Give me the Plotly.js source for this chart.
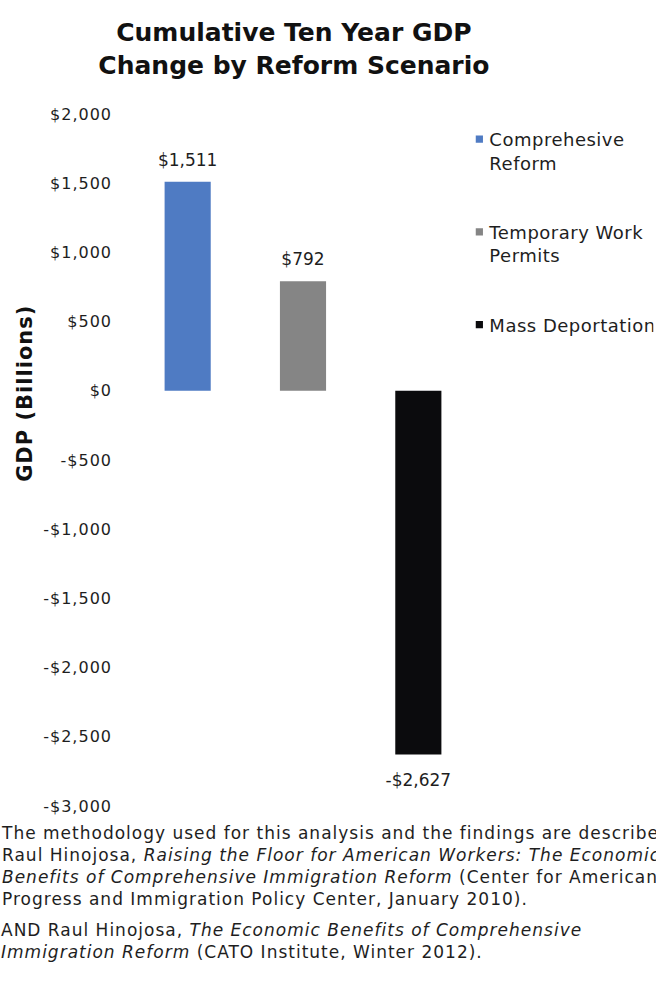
<!DOCTYPE html>
<html>
<head>
<meta charset="utf-8">
<script src="https://cdn.plot.ly/plotly-3.0.1.min.js"></script>
<style>
html, body { margin: 0; padding: 0; background: #ffffff; }
#chart { width: 656px; height: 988px; }
#chart .annotation-text { letter-spacing: 1px; }
#chart .ytick text { letter-spacing: 1px; }
#chart .legendtext { letter-spacing: 0.5px; }
#chart .legendpoints path { transform: translate(30px, 0px) scale(0.6); }
</style>
</head>
<body>
<div id="chart"></div>
<script>
// ---- data ----
const categories = ['Comprehensive Reform', 'Temporary Work Permits', 'Mass Deportation'];
const legendNames = ['Comprehesive<br>Reform', 'Temporary Work<br>Permits', 'Mass Deportation'];
const gdpChange = [1511, 792, -2627];
const barColors = ['#4F7BC3', '#858585', '#0B0B0D'];
const tickValues = [2000, 1500, 1000, 500, 0, -500, -1000, -1500, -2000, -2500, -3000];
const chartTitle = 'Cumulative Ten Year GDP<br>Change by Reform Scenario';
const yAxisTitle = 'GDP (Billions)';
const sourceNote1 = 'The methodology used for this analysis and the findings are described<br>' +
  'Raul Hinojosa, <i>Raising the Floor for American Workers: The Economic</i><br>' +
  '<i>Benefits of Comprehensive Immigration Reform</i> (Center for American<br>' +
  'Progress and Immigration Policy Center, January 2010).';
const sourceNote2 = 'AND Raul Hinojosa, <i>The Economic Benefits of Comprehensive</i><br>' +
  '<i>Immigration Reform</i> (CATO Institute, Winter 2012).';

function money(v) {
  const s = '$' + Math.abs(v).toLocaleString('en-US');
  return v < 0 ? '-' + s : s;
}

const FONT = 'DejaVu Sans, Arial, sans-serif';
const TEXTC = '#1e1e1e';

const traces = categories.map((c, i) => ({
  type: 'bar',
  x: [c],
  y: [gdpChange[i]],
  name: legendNames[i],
  width: 0.4,
  marker: { color: barColors[i] },
  legendgroup: 'g' + i,
  hoverinfo: 'skip'
}));

traces.push({
  type: 'scatter',
  x: categories,
  y: gdpChange,
  mode: 'markers+text',
  text: gdpChange.map(money),
  textposition: gdpChange.map(v => v >= 0 ? 'top center' : 'bottom center'),
  marker: { size: gdpChange.map(v => v >= 0 ? 17 : 29), opacity: 0 },
  textfont: { family: FONT, size: 17, color: TEXTC },
  showlegend: false,
  cliponaxis: false,
  hoverinfo: 'skip'
});

const layout = {
  width: 656,
  height: 988,
  margin: { l: 130, r: 180, t: 114, b: 182, autoexpand: false },
  paper_bgcolor: '#ffffff',
  plot_bgcolor: '#ffffff',
  barmode: 'overlay',
  showlegend: true,
  title: {
    text: chartTitle,
    font: { family: FONT, size: 25, weight: 'bold', color: '#111111' },
    xref: 'container', x: 0.448, xanchor: 'center',
    yref: 'container', y: 0.958, yanchor: 'top'
  },
  xaxis: {
    type: 'category',
    range: [-0.5, 2.5],
    visible: false,
    fixedrange: true
  },
  yaxis: {
    range: [-3000, 2000],
    tickvals: tickValues,
    ticktext: tickValues.map(money),
    showgrid: false,
    zeroline: false,
    showline: false,
    ticks: '',
    ticklabelstandoff: 17,
    tickfont: { family: FONT, size: 16, color: TEXTC },
    fixedrange: true
  },
  legend: {
    x: 0.923, xanchor: 'left',
    y: 0.99, yanchor: 'top',
    traceorder: 'grouped',
    tracegroupgap: 43,
    valign: 'top',
    bgcolor: 'rgba(0,0,0,0)',
    font: { family: FONT, size: 18, color: TEXTC }
  },
  annotations: [
    {
      text: yAxisTitle,
      textangle: -90,
      xref: 'paper', yref: 'paper',
      x: -0.3035, y: 0.597,
      xanchor: 'center', yanchor: 'middle',
      showarrow: false,
      font: { family: FONT, size: 21, weight: 'bold', color: '#111111' }
    },
    {
      text: sourceNote1,
      xref: 'paper', yref: 'paper',
      x: -0.378, y: -0.0217,
      xanchor: 'left', yanchor: 'top', align: 'left',
      showarrow: false,
      font: { family: FONT, size: 17, color: TEXTC }
    },
    {
      text: sourceNote2,
      xref: 'paper', yref: 'paper',
      x: -0.378, y: -0.1618,
      xanchor: 'left', yanchor: 'top', align: 'left',
      showarrow: false,
      font: { family: FONT, size: 17, color: TEXTC }
    }
  ]
};

Plotly.newPlot('chart', traces, layout, { displayModeBar: false, staticPlot: true });
</script>
</body>
</html>
